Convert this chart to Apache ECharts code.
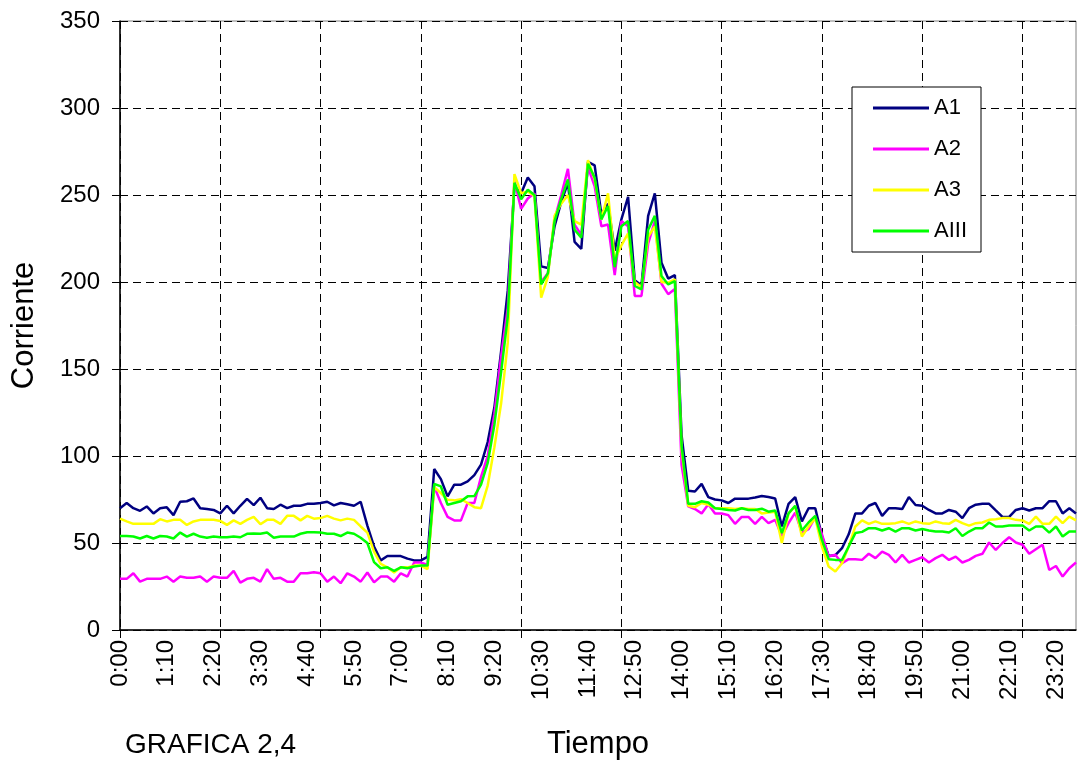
<!DOCTYPE html>
<html>
<head>
<meta charset="utf-8">
<script src="https://cdn.jsdelivr.net/npm/echarts@6/dist/echarts.min.js"></script>
<style>
  html, body { margin: 0; padding: 0; background: #fff; }
  #chart { width: 1077px; height: 767px; }
</style>
</head>
<body>
<div id="chart"></div>
<script>
// one reading every 10 minutes, 0:00 .. 23:50
var times = [];
for (var m = 0; m < 24 * 60; m += 10) {
  times.push(Math.floor(m / 60) + ':' + (m % 60 === 0 ? '00' : String(m % 60)));
}

var seriesNames = ['A1', 'A2', 'A3', 'AIII'];

var a1 = [70, 73, 70, 68.5, 71, 67, 70, 70.5, 66, 73.7, 74, 75.6, 70, 69.5, 69, 67, 71.4, 67, 71.4, 75.4,
  71.8, 76, 70, 69.5, 72, 70, 71.4, 71.4, 72.5, 72.5, 73, 73.7, 71.6, 73, 72.3, 71.4, 73.7, 60, 48, 40,
  42.5, 42.5, 42.5, 41, 40, 40, 42, 92.5, 86.7, 76.8, 83.5, 83.5, 85.4, 89, 95, 108, 128, 160, 195, 255,
  251, 260, 255, 209, 208, 232, 246, 257, 223, 219, 269, 267, 239, 245, 218, 236, 249, 201, 198, 238,
  251, 211, 202, 204, 112, 80, 79.6, 84, 76.4, 75, 74.5, 73, 75.5, 75.5, 75.5, 76.2, 77, 76.4, 75.6, 59.5,
  72.5, 76.4, 62.4, 70, 70, 54, 42.6, 43, 47, 55, 67, 67, 71.4, 73, 65.6, 70, 70, 69.5, 76.4, 71.8,
  71.4, 69, 67, 67, 69, 68, 64.3, 70, 72, 72.5, 72.5, 68.7, 65, 65, 69, 70, 68.7, 70, 70, 74,
  74, 67, 70, 67];

var a2 = [29.4, 29.4, 32.6, 27.8, 29.4, 29.4, 29.4, 30.7, 27.8, 30.7, 30, 30, 30.7, 27.8, 30.7, 30, 30, 34, 27.2, 29.4,
  30, 27.8, 35, 29.4, 30, 27.8, 27.8, 32.6, 32.6, 33.2, 32.6, 27.8, 30.7, 26.9, 32.6, 30.7, 27.8, 33, 27.4, 30.7,
  30.7, 27.8, 32.6, 30.7, 38.8, 38.8, 37.4, 82.5, 73, 65, 63, 63, 73, 73, 88, 100, 124, 157, 185, 258,
  242, 248, 251, 200, 205, 236, 250, 265, 233, 227, 266, 255, 232, 233, 204, 235, 232, 192, 192, 222,
  235, 199, 193, 196, 95, 71, 69.5, 67, 72.3, 67, 67, 66, 61, 65, 65, 61, 65, 61.4, 63.3, 54,
  61.4, 67.5, 56, 58, 64.9, 55, 42.2, 43.2, 38.4, 40.7, 40.7, 40.3, 43.8, 41.3, 45, 43.2, 38.8, 43.2, 38.8, 40.3,
  41.8, 38.8, 41.3, 43.2, 40.3, 42.2, 38.8, 40.3, 42.6, 43.8, 50.3, 46, 50, 53.3, 50.3, 49, 43.8, 46.4, 49, 34.5,
  36.8, 30.7, 35.5, 38.8];

var a3 = [64, 62.4, 61, 61, 61, 61, 63.7, 62.4, 63.3, 63.3, 60.4, 62.4, 63.3, 63.3, 63.3, 62.7, 60.4, 63, 61, 63.3,
  65, 60.8, 63.3, 63.3, 61, 65.6, 65.6, 63, 65.6, 64, 64.3, 65.6, 64, 63, 64, 63.3, 59.5, 56, 45, 38,
  36, 33, 36, 36, 37, 37, 35, 82, 78.7, 74.8, 74.5, 75.2, 73, 70.6, 70, 83, 105, 130, 165, 262,
  251, 252, 249.5, 191, 203, 238, 245, 250, 235, 233, 270, 259, 236, 251, 213, 221, 228, 200, 197, 226,
  232, 200, 199.6, 201.5, 104, 71.4, 70.6, 73, 72, 70, 70, 70, 69.5, 70, 69.5, 69.5, 67, 67.5, 68, 50,
  67, 71, 53.7, 59.5, 64.3, 48, 36.5, 33.6, 38.4, 48, 59.5, 63, 61, 62.4, 61, 61, 61.4, 62.4, 61, 62.4,
  61.4, 61, 62.4, 61.4, 61, 63.3, 61.4, 60, 61.4, 61.8, 63.3, 63.7, 64.3, 64.3, 63.3, 63, 61, 65.2, 61, 61,
  65.2, 61.4, 65.2, 63];

var aIII = [54, 54, 53.7, 52.6, 54, 52.6, 54, 53.7, 52.6, 56, 53.7, 55.3, 53.7, 53, 53.7, 53.3, 53.3, 53.7, 53.3, 55.3,
  55.5, 55.3, 56, 53, 53.7, 53.7, 53.7, 55.3, 56.2, 56.2, 56, 55.3, 55.3, 54, 56, 55.3, 53, 50, 39, 35.5,
  36, 34, 36, 35.5, 36.5, 37, 37, 84, 82.5, 72, 73, 74, 76.8, 77, 83.5, 96, 118, 148, 180, 257,
  247.6, 253, 250, 198.6, 205, 235, 247.6, 259, 230, 225.5, 268, 260, 236, 243.7, 208.5, 232, 235, 197.7, 195.7, 230,
  238, 203.4, 198.6, 200.5, 106, 72.5, 72.5, 74, 73.3, 70, 69.5, 69, 68.7, 70, 69, 69, 69.7, 68, 68.7, 55.7,
  67, 71.4, 57.2, 61.8, 65.6, 51.8, 40.7, 40.3, 40.3, 48, 55.7, 56.4, 58.5, 58.5, 57.2, 58.5, 56.6, 58.5, 58.5, 57.2,
  58, 57.2, 56.6, 56.6, 56, 58.5, 54, 56.6, 58.5, 58.5, 61.8, 59.5, 59.5, 60, 60, 60, 57.2, 59.5, 59.5, 56,
  59.5, 53.7, 56.6, 56.6];

var colors = ['#000080', '#ff00ff', '#ffff00', '#00ff00'];
var fontFam = '"Liberation Sans", Arial, sans-serif';

var chart = echarts.init(document.getElementById('chart'), null, { renderer: 'canvas' });

var dashed = { color: '#000', width: 1, type: [8, 5] };

var option = {
  animation: false,
  backgroundColor: '#fff',
  color: colors,
  textStyle: { fontFamily: fontFam, color: '#000' },
  grid: {
    left: 120,
    right: 1,
    top: 21,
    bottom: 137,
    show: true,
    borderColor: '#808080',
    borderWidth: 1,
    containLabel: false
  },
  legend: {
    data: seriesNames,
    orient: 'vertical',
    left: 852,
    top: 87,
    icon: 'rect',
    itemWidth: 56,
    itemHeight: 3,
    itemGap: 17,
    padding: [9, 14, 9, 21],
    backgroundColor: '#fff',
    borderColor: '#000',
    borderWidth: 1,
    textStyle: { fontSize: 22, lineHeight: 24, color: '#000', fontFamily: fontFam }
  },
  xAxis: {
    type: 'category',
    data: times,
    boundaryGap: false,
    name: 'Tiempo',
    nameLocation: 'middle',
    nameGap: 99,
    nameTextStyle: { fontSize: 31, color: '#000', fontFamily: fontFam },
    axisLine: { lineStyle: { color: '#000', width: 1.5 } },
    axisTick: { interval: 14, length: 8, lineStyle: { color: '#000' } },
    axisLabel: { interval: 6, rotate: 90, margin: 10, fontSize: 24, color: '#000', fontFamily: fontFam },
    splitLine: { show: true, interval: 14, lineStyle: dashed }
  },
  yAxis: {
    type: 'value',
    min: 0,
    max: 350,
    interval: 50,
    name: 'Corriente',
    nameLocation: 'middle',
    nameGap: 80,
    nameRotate: 90,
    nameTextStyle: { fontSize: 31, color: '#000', fontFamily: fontFam },
    axisLine: { show: true, lineStyle: { color: '#000', width: 1.5 } },
    axisTick: { show: true, length: 8, lineStyle: { color: '#000' } },
    axisLabel: { margin: 20, fontSize: 24, color: '#000', fontFamily: fontFam },
    splitLine: { show: true, lineStyle: dashed }
  },
  graphic: [
    {
      type: 'text',
      left: 125,
      top: 731,
      style: { text: 'GRAFICA 2,4', fontSize: 28, fill: '#000', fontFamily: fontFam }
    }
  ],
  series: [
    { name: 'A1', type: 'line', data: a1 },
    { name: 'A2', type: 'line', data: a2 },
    { name: 'A3', type: 'line', data: a3 },
    { name: 'AIII', type: 'line', data: aIII }
  ].map(function (s, k) {
    s.symbol = 'none';
    s.lineStyle = { width: 2.5, color: colors[k] };
    s.itemStyle = { color: colors[k] };
    s.z = 2 + k;
    return s;
  })
};

chart.setOption(option);
</script>
</body>
</html>
